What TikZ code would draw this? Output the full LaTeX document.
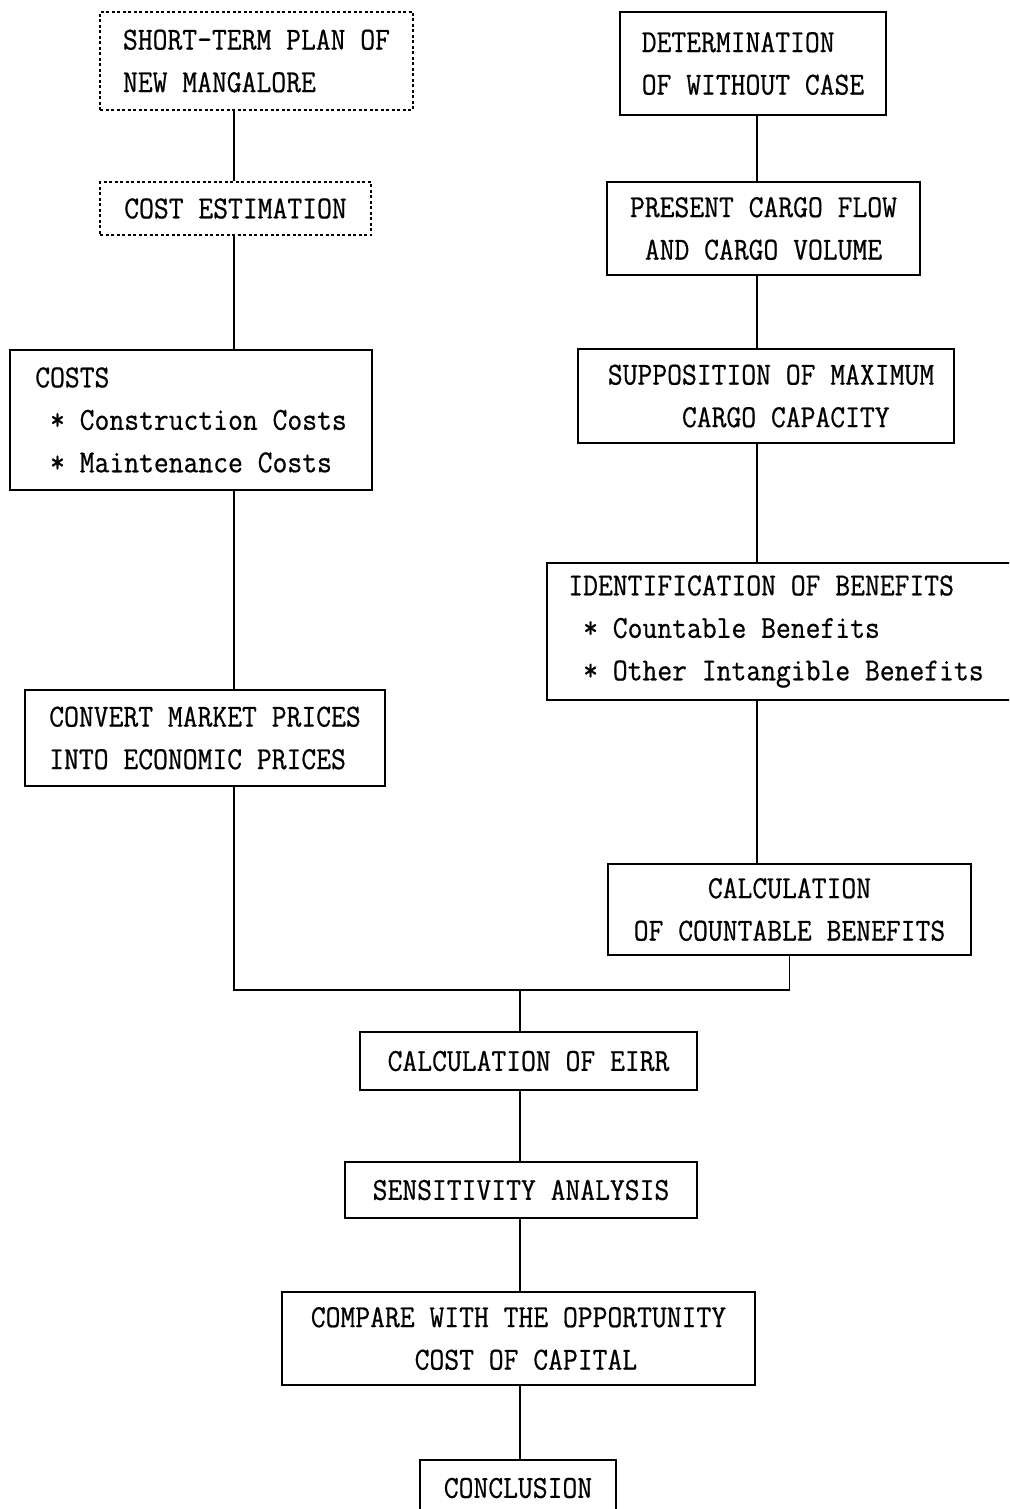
\documentclass[tikz,border=0pt]{standalone}
\usepackage{fontspec}
\setmonofont{Latin Modern Mono}[FakeStretch=0.9,FakeBold=0.6]
\usetikzlibrary{calc}
\begin{document}
\begin{tikzpicture}[x=1pt,y=-1pt,
  box/.style={draw,line width=1.5pt,inner sep=0pt,rectangle,
    font=\ttfamily\fontsize{32}{42.5}\selectfont},
  dotbox/.style={box,line width=1.2pt,dash pattern=on 3pt off 2.5pt},
  link/.style={line width=1.6pt}]
\useasboundingbox (0,0) rectangle (1009,1509);
\clip (0,0) rectangle (1009,1509);
\fill[white] (0,0) rectangle (1009,1509);

% left column
\node[dotbox,minimum width=313pt,minimum height=98pt,align=left] (plan) at (256.5,61)
  {SHORT-TERM PLAN OF\\NEW MANGALORE};
\node[dotbox,minimum width=271pt,minimum height=53pt] (est) at (235.5,208.5)
  {COST ESTIMATION};
\node[box,minimum width=362pt,minimum height=140pt,align=left] (costs) at (191,420)
  {COSTS\\\phantom{X}* Construction Costs\\\phantom{X}* Maintenance Costs\hspace*{12pt}};
\node[box,minimum width=360pt,minimum height=96pt,align=left] (conv) at (205,738)
  {CONVERT MARKET PRICES\\INTO ECONOMIC PRICES};

% right column
\node[box,minimum width=266pt,minimum height=103pt,align=left] (det) at (753,63.5)
  {DETERMINATION\\OF WITHOUT CASE};
\node[box,minimum width=313pt,minimum height=93pt,align=center] (pres) at (763.5,228.5)
  {PRESENT CARGO FLOW\\AND CARGO VOLUME};
\node[box,minimum width=376pt,minimum height=94pt,align=left] (supp) at (766,396)
  {\hspace*{10pt}SUPPOSITION OF MAXIMUM\\\hspace*{10pt}\phantom{XXXXX}CARGO CAPACITY};
\node[box,minimum width=468pt,minimum height=137pt,align=left] (ident) at (781,631.5)
  {IDENTIFICATION OF BENEFITS\\\phantom{X}* Countable Benefits\\\phantom{X}* Other Intangible Benefits\hspace*{10pt}};
\node[box,minimum width=363pt,minimum height=91pt,align=center] (calcb) at (789.5,909.5)
  {CALCULATION\\OF COUNTABLE BENEFITS};

% bottom chain
\node[box,minimum width=337pt,minimum height=58pt] (eirr) at (528.5,1061)
  {CALCULATION OF EIRR};
\node[box,minimum width=352pt,minimum height=56pt] (sens) at (521,1190)
  {SENSITIVITY ANALYSIS};
\node[box,minimum width=473pt,minimum height=93pt,align=left] (comp) at (518.5,1338.5)
  {COMPARE WITH THE OPPORTUNITY\\\phantom{XXXXXXX}COST OF CAPITAL};
\node[box,minimum width=196pt,minimum height=56pt] (concl) at (518,1488)
  {CONCLUSION};

% connector guide coordinates
\coordinate (lx) at (234,0);
\coordinate (rx) at (757,0);
\coordinate (mx) at (520,0);
\coordinate (jy) at (0,990);

\draw[link] (lx |- plan.south) -- (lx |- est.north);
\draw[link] (lx |- est.south) -- (lx |- costs.north);
\draw[link] (lx |- costs.south) -- (lx |- conv.north);
\draw[link] (rx |- det.south) -- (rx |- pres.north);
\draw[link] (rx |- pres.south) -- (rx |- supp.north);
\draw[link] (rx |- supp.south) -- (rx |- ident.north);
\draw[link] (rx |- ident.south) -- (rx |- calcb.north);
\draw[link] (lx |- conv.south) -- (lx |- jy) -- (calcb.south |- jy) -- (calcb.south);
\draw[link] (mx |- jy) -- (mx |- eirr.north);
\draw[link] (mx |- eirr.south) -- (mx |- sens.north);
\draw[link] (mx |- sens.south) -- (mx |- comp.north);
\draw[link] (mx |- comp.south) -- (mx |- concl.north);
\end{tikzpicture}
\end{document}
